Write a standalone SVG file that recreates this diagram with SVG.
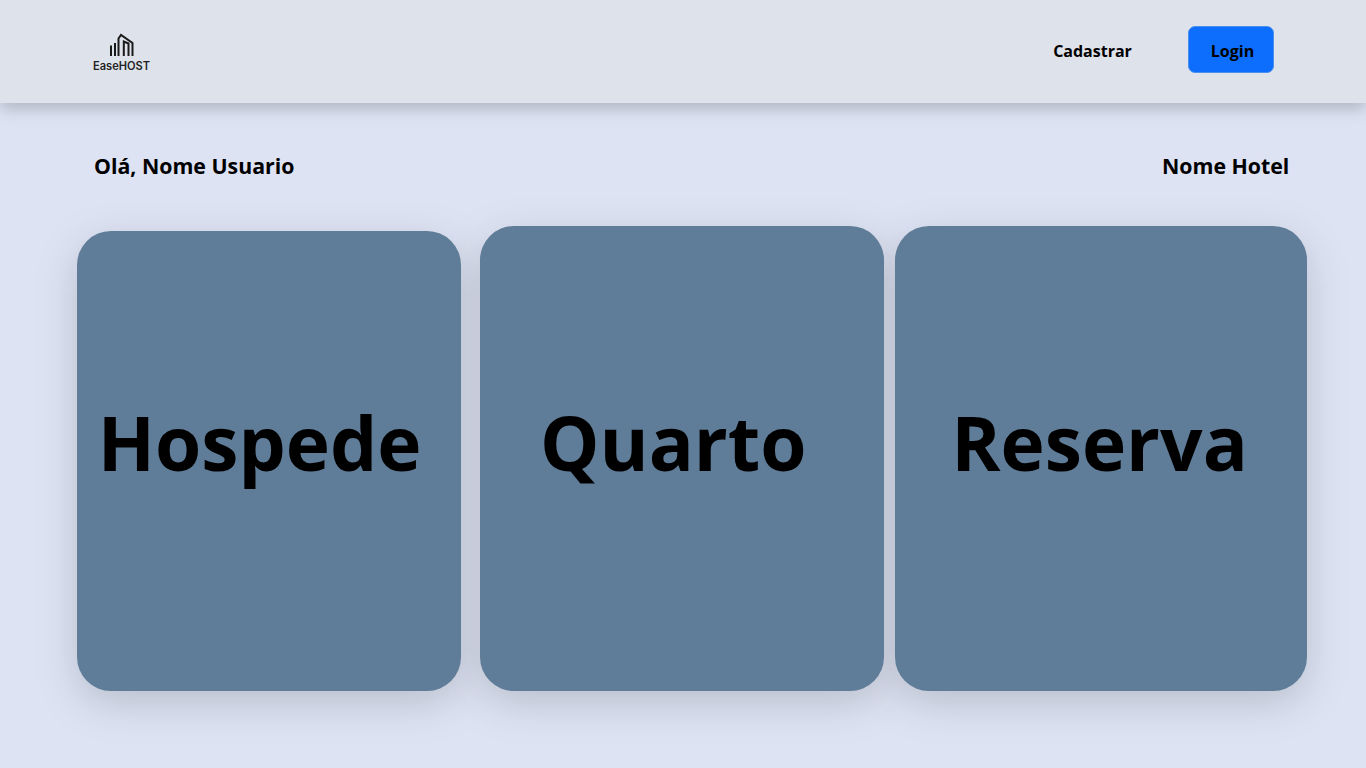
<svg xmlns="http://www.w3.org/2000/svg" width="1366" height="768" viewBox="0 0 1366 768">
<defs>
<filter id="cs" x="-30%" y="-30%" width="160%" height="160%"><feGaussianBlur stdDeviation="20"/></filter>
<filter id="hs" x="-5%" y="-20%" width="110%" height="180%"><feDropShadow dx="0" dy="6" stdDeviation="8" flood-color="#000" flood-opacity="0.2"/></filter>
</defs>
<style>
text{font-family:"Open Sans","Noto Sans","Liberation Sans",sans-serif;font-weight:700;fill:#000}
.shadow{fill:#000;fill-opacity:0.16;filter:url(#cs)}
.card{fill:#5f7c98}
.big{font-size:74.800px;text-anchor:middle}
.mid{font-size:21.300px}
.nav{font-size:16px;text-anchor:middle}
.ic{fill:none;stroke:#1a1a1a;stroke-width:2}
</style>
<rect width="1366" height="768" fill="#dde3f3"/>
<g id="card-shadows">
<rect class="shadow" x="77" y="243" width="384" height="460" rx="34"/>
<rect class="shadow" x="480" y="238" width="404" height="465" rx="34"/>
<rect class="shadow" x="895" y="238" width="412" height="465" rx="34"/>
</g>
<g id="header">
<rect width="1366" height="103" fill="#dee2eb" filter="url(#hs)"/>
</g>
<g id="logo">
<path class="ic" d="M111 56V45.500M115 56V43M118.500 56V38.500L121 35L132.500 43V56M123.800 56V41.500L128.500 43.500V56"/>
<text x="121.500" y="70" font-size="11.100" text-anchor="middle" style="font-family:Inter,'Liberation Sans',sans-serif;font-weight:600;fill:#222">EaseHOST</text>
</g>
<g id="cadastrar"><text class="nav" x="1092.500" y="57">Cadastrar</text></g>
<g id="login">
<rect x="1188.500" y="26.500" width="85" height="46" rx="6.500" fill="#0d6efd" stroke="#4a8fee" stroke-width="1"/>
<text class="nav" x="1232.500" y="57">Login</text>
</g>
<g id="greeting"><text class="mid" x="94" y="174">Olá, Nome Usuario</text></g>
<g id="hotel"><text class="mid" x="1162" y="174">Nome Hotel</text></g>
<g id="hospede">
<rect class="card" x="77" y="231" width="384" height="460" rx="34"/>
<text class="big" x="259.700" y="471">Hospede</text>
</g>
<g id="quarto">
<rect class="card" x="480" y="226" width="404" height="465" rx="34"/>
<text class="big" x="673.300" y="471">Quarto</text>
</g>
<g id="reserva">
<rect class="card" x="895" y="226" width="412" height="465" rx="34"/>
<text class="big" x="1099.500" y="471">Reserva</text>
</g>
<g id="connectors"/>
</svg>
